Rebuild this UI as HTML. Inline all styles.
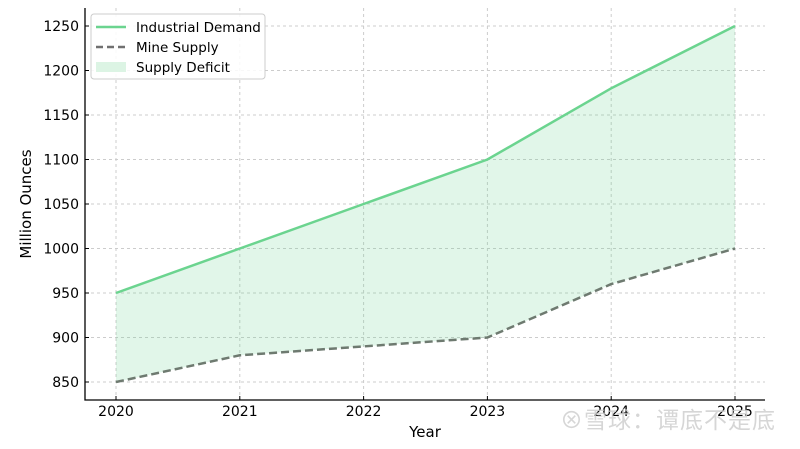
<!DOCTYPE html>
<html><head><meta charset="utf-8"><style>
body{margin:0;background:#fff;}
text{font-family:"DejaVu Sans","Liberation Sans",sans-serif;}
</style></head><body>
<svg id="chart" width="800" height="444" xmlns="http://www.w3.org/2000/svg">
<g id="grid"></g>
<g id="marks"></g>
<g id="axes"></g>
<text x="425" y="437" font-size="15" text-anchor="middle">Year</text>
<text transform="translate(31,204) rotate(-90)" font-size="15" text-anchor="middle">Million Ounces</text>
<g>
<rect x="91" y="14" width="174" height="65" rx="3" fill="#fff" fill-opacity="0.85" stroke="#ccc"/>
<line x1="96" y1="27" x2="126" y2="27" stroke="#6bd48f" stroke-width="2.5"/>
<text x="136" y="32" font-size="13.5">Industrial Demand</text>
<line x1="96" y1="47" x2="126" y2="47" stroke="#707070" stroke-width="2.5" stroke-dasharray="7,4"/>
<text x="136" y="52" font-size="13.5">Mine Supply</text>
<rect x="96" y="62" width="30" height="10" fill="#dcf4e4"/>
<text x="136" y="72" font-size="13.5">Supply Deficit</text>
</g>
<text x="560" y="428" font-size="23" fill="#ccc" fill-opacity="0.8" textLength="215" style='font-family:"Noto Sans CJK SC",sans-serif'>⊗雪球：谭底不是底</text>
</svg>
<script>
const years=[2020,2021,2022,2023,2024,2025];
const demand=[950,1000,1050,1100,1180,1250];
const supply=[850,880,890,900,960,1000];
const yTicks=[850,900,950,1000,1050,1100,1150,1200,1250];
const NS="http://www.w3.org/2000/svg";
const L=85,R=765,T=8,B=400;
const x=v=>116+(v-2020)*123.8;
const y=v=>382-(v-850)*0.89;
function mk(tag,attrs,parent){const e=document.createElementNS(NS,tag);for(const k in attrs)e.setAttribute(k,attrs[k]);document.getElementById(parent).appendChild(e);return e;}
yTicks.forEach(t=>{
 const g=mk('line',{x1:L,x2:R,y1:y(t),y2:y(t),stroke:'#ccc','stroke-dasharray':'3,3'},'grid');
 
 
 const tk=mk('line',{x1:L,x2:L+4,y1:y(t),y2:y(t),stroke:'#000'},'axes');
 
 
 const tx=mk('text',{x:L-6,y:y(t)+5,'font-size':14,'text-anchor':'end'},'axes');tx.textContent=t;
 
 
});
years.forEach(v=>{
 const g=mk('line',{x1:x(v),x2:x(v),y1:T,y2:B,stroke:'#ccc','stroke-dasharray':'3,3'},'grid');
 
 
 const tk=mk('line',{x1:x(v),x2:x(v),y1:B,y2:B-4,stroke:'#000'},'axes');
 
 
 const tx=mk('text',{x:x(v),y:B+16,'font-size':14,'text-anchor':'middle'},'axes');tx.textContent=v;
 
 
});
const sp=mk('path',{d:`M${L} ${T}V${B}H${R}`,fill:'none',stroke:'#000','stroke-width':1.3},'axes');


const topPts=years.map((v,i)=>`${x(v)},${y(demand[i])}`);
const botPts=years.map((v,i)=>`${x(v)},${y(supply[i])}`).reverse();
const area=mk('polygon',{points:topPts.concat(botPts).join(' '),fill:'#6bd48f','fill-opacity':0.2},'marks');


const dl=mk('polyline',{points:topPts.join(' '),fill:'none',stroke:'#6bd48f','stroke-width':2.5},'marks');


const sl=mk('polyline',{points:years.map((v,i)=>`${x(v)},${y(supply[i])}`).join(' '),fill:'none',stroke:'#6e7a70','stroke-width':2.5,'stroke-dasharray':'8,4'},'marks');


</script>
</body></html>
